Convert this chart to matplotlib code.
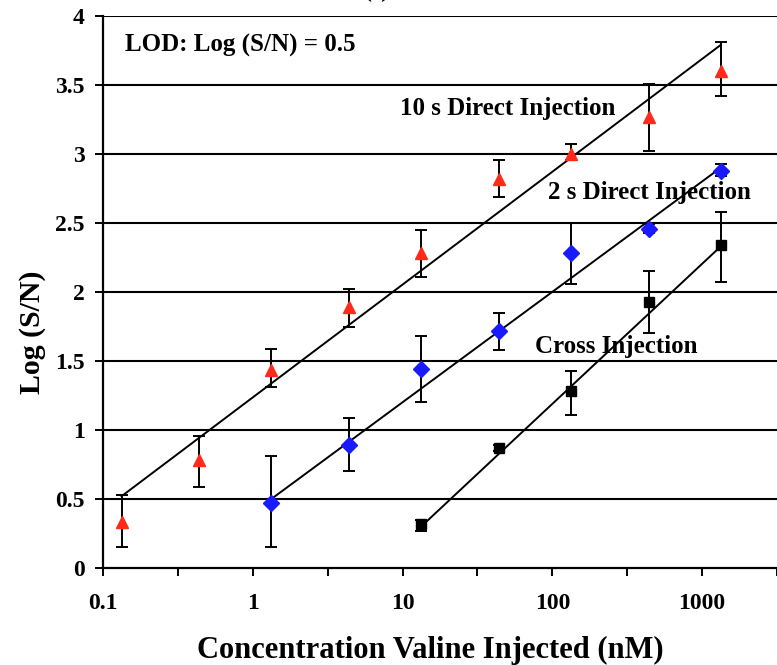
import numpy as np
import matplotlib
matplotlib.use('Agg')
import matplotlib.pyplot as plt

plt.rcParams['font.family'] = ['Liberation Serif', 'DejaVu Serif']
plt.rcParams['font.weight'] = 'bold'

# concentrations (nM)
conc = [0.133, 0.44, 1.33, 4.4, 13.3, 44, 133, 440, 1330]

# 10 s direct injection (red triangles)
y_10s = [0.335, 0.78, 1.435, 1.89, 2.28, 2.82, 3.00, 3.27, 3.60]
err_10s_hi = [0.53, 0.96, 1.585, 2.02, 2.45, 2.96, 3.07, 3.51, 3.81]
err_10s_lo = [0.155, 0.59, 1.31, 1.75, 2.11, 2.69, 2.96, 3.02, 3.42]

# 2 s direct injection (blue diamonds)
conc_2s = [1.33, 4.4, 13.3, 44, 133, 440, 1330]
y_2s = [0.47, 0.89, 1.44, 1.72, 2.28, 2.46, 2.88]
err_2s_hi = [0.81, 1.09, 1.68, 1.85, 2.50, 2.49, 2.93]
err_2s_lo = [0.15, 0.70, 1.20, 1.58, 2.06, 2.43, 2.84]

# cross injection (black squares)
conc_cross = [13.3, 44, 133, 440, 1330]
y_cross = [0.32, 0.87, 1.28, 1.93, 2.34]
err_cross_hi = [0.35, 0.89, 1.43, 2.15, 2.58]
err_cross_lo = [0.27, 0.85, 1.11, 1.70, 2.07]

# fitted lines, end points
fit_10s_x = [0.133, 1330]
fit_10s_y = [0.52, 3.79]
fit_2s_x = [1.33, 1330]
fit_2s_y = [0.50, 2.90]
fit_cross_x = [13.3, 1330]
fit_cross_y = [0.30, 2.33]

xtick_vals = [0.1, 1, 10, 100, 1000]
xtick_labels = ['0.1', '1', '10', '100', '1000']
ytick_vals = [0, 0.5, 1, 1.5, 2, 2.5, 3, 3.5, 4]
ytick_labels = ['0', '0.5', '1', '1.5', '2', '2.5', '3', '3.5', '4']

fig = plt.figure(figsize=(7.77, 6.65), dpi=100)
ax = fig.add_axes([103/777, 97/665, 674/777, 552/665])

for yv in ytick_vals[1:]:
    ax.axhline(yv, color='black', lw=1.5, zorder=1)

def series(x, y, lo, hi, marker, color, ms):
    y = np.array(y)
    yerr = [y - np.array(lo), np.array(hi) - y]
    ax.errorbar(x, y, yerr=yerr, fmt='none', ecolor='black', elinewidth=1.4,
                capsize=4.5, capthick=1.4, zorder=3)
    ax.plot(x, y, ls='none', marker=marker, color=color, ms=ms, mec=color, zorder=4)

ax.plot(fit_10s_x, fit_10s_y, color='black', lw=1.4, zorder=2)
ax.plot(fit_2s_x, fit_2s_y, color='black', lw=1.4, zorder=2)
ax.plot(fit_cross_x, fit_cross_y, color='black', lw=1.4, zorder=2)

series(conc, y_10s, err_10s_lo, err_10s_hi, '^', '#ff2a1a', 8.5)
series(conc_2s, y_2s, err_2s_lo, err_2s_hi, 'D', '#1a1aff', 8)
series(conc_cross, y_cross, err_cross_lo, err_cross_hi, 's', 'black', 6.5)

ax.set_xscale('log')
ax.set_xlim(0.1, 10**3.494)
ax.set_ylim(0, 4)
ax.set_xticks(xtick_vals)
ax.set_xticklabels(xtick_labels)
ax.set_xticks([10**(k + 0.5) for k in range(-1, 4)], minor=True)
ax.set_xticklabels([], minor=True)
ax.set_yticks(ytick_vals)
ax.set_yticklabels(ytick_labels)
ax.tick_params(axis='both', which='both', direction='out', length=6, width=1.4,
               labelsize=17, colors='black')
ax.tick_params(axis='x', which='both', pad=12)
ax.tick_params(axis='y', pad=7)

for s in ['top', 'right']:
    ax.spines[s].set_visible(False)
for s in ['left', 'bottom']:
    ax.spines[s].set_linewidth(1.6)

ax.set_xlabel('Concentration Valine Injected (nM)', fontsize=22, fontweight='bold')
ax.xaxis.set_label_coords((430 - 103) / 674, (568 - 650) / 552)
ax.xaxis.label.set_va('center')
ax.set_ylabel('Log (S/N)', fontsize=21.5, fontweight='bold')
ax.yaxis.set_label_coords((32 - 103) / 674, (568 - 332) / 552)
ax.yaxis.label.set_va('center')

ax.text(125/777, 1 - 45/665, 'LOD: Log (S/N) = 0.5', transform=fig.transFigure,
        fontsize=18, fontweight='bold', ha='left', va='center')
ax.text(400/777, 1 - 108/665, '10 s Direct Injection', transform=fig.transFigure,
        fontsize=18, fontweight='bold', ha='left', va='center')
ax.text(548/777, 1 - 193/665, '2 s Direct Injection', transform=fig.transFigure,
        fontsize=18, fontweight='bold', ha='left', va='center')
ax.text(535/777, 1 - 347/665, 'Cross Injection', transform=fig.transFigure,
        fontsize=18, fontweight='bold', ha='left', va='center')
fig.text(348/777, 1 - 2/665, 'Time (s)', fontsize=17, fontweight='bold',
         ha='center', va='bottom')

fig.savefig('out.png', dpi=100)
